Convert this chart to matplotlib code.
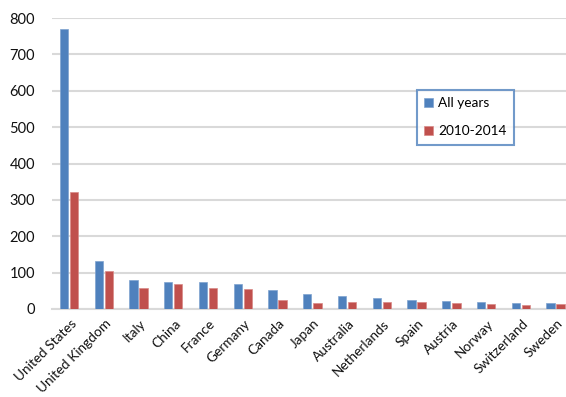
import matplotlib
matplotlib.use("Agg")
import matplotlib.pyplot as plt
import matplotlib.transforms as mtransforms
import numpy as np

countries = ["United States", "United Kingdom", "Italy", "China", "France", "Germany",
             "Canada", "Japan", "Australia", "Netherlands", "Spain", "Austria",
             "Norway", "Switzerland", "Sweden"]
all_years = [770, 132, 81, 73, 73, 70, 53, 41, 36, 31, 26, 23, 19, 17, 16]
recent = [323, 105, 58, 68, 58, 56, 25, 16, 19, 20, 18, 16, 14, 10, 14]
yticks = [0, 100, 200, 300, 400, 500, 600, 700, 800]

plt.rcParams['font.family'] = ['Lato', 'DejaVu Sans']

fig = plt.figure(figsize=(5.66, 3.97), dpi=100)
ax = fig.add_axes([51.6/566, 1-309/397, (573-51.6)/566, (309-18)/397])

x = np.arange(len(countries))
w = 0.24
blue = "#4F81BD"
red = "#C0504D"
ax.bar(x - 0.145, all_years, w, color=blue, edgecolor="#7FA3D0", linewidth=0.5, label="All years", zorder=3)
ax.bar(x + 0.145, recent, w, color=red, edgecolor="#D88A88", linewidth=0.5, label="2010-2014", zorder=3)

ax.set_xlim(-0.5, len(countries) - 0.5)
ax.set_ylim(0, 800)
ax.set_yticks(yticks)
ax.set_yticklabels([str(v) for v in yticks], fontsize=10.5, color="#111111")
ax.yaxis.grid(True, color="#D9D9D9", linewidth=1.5, zorder=0)
ax.set_axisbelow(True)
for s in ["top", "right", "left"]:
    ax.spines[s].set_visible(False)
ax.spines["bottom"].set_color("#D9D9D9")
ax.spines["bottom"].set_linewidth(1.5)
ax.tick_params(axis="both", length=0)
ax.tick_params(axis="y", pad=12)
ax.set_xticks(x)
ax.set_xticklabels(countries, rotation=45, ha="right", rotation_mode="anchor", fontsize=9.8, color="#111111")
ax.tick_params(axis="x", pad=6)
offset = mtransforms.ScaledTranslation(1/100, 0, fig.dpi_scale_trans)
for lab in ax.get_xticklabels():
    lab.set_transform(lab.get_transform() + offset)

leg = ax.legend(loc="upper left", bbox_to_anchor=((417-51.6)/(573-51.6), (309-90)/291),
                frameon=True, fancybox=False, fontsize=9.8, handlelength=0.65, handleheight=0.65,
                labelspacing=1.15, handletextpad=0.35, borderpad=0.55, borderaxespad=0)
leg.get_frame().set_edgecolor(blue)
leg.get_frame().set_linewidth(1.5)

fig.savefig("out.png", dpi=100)
